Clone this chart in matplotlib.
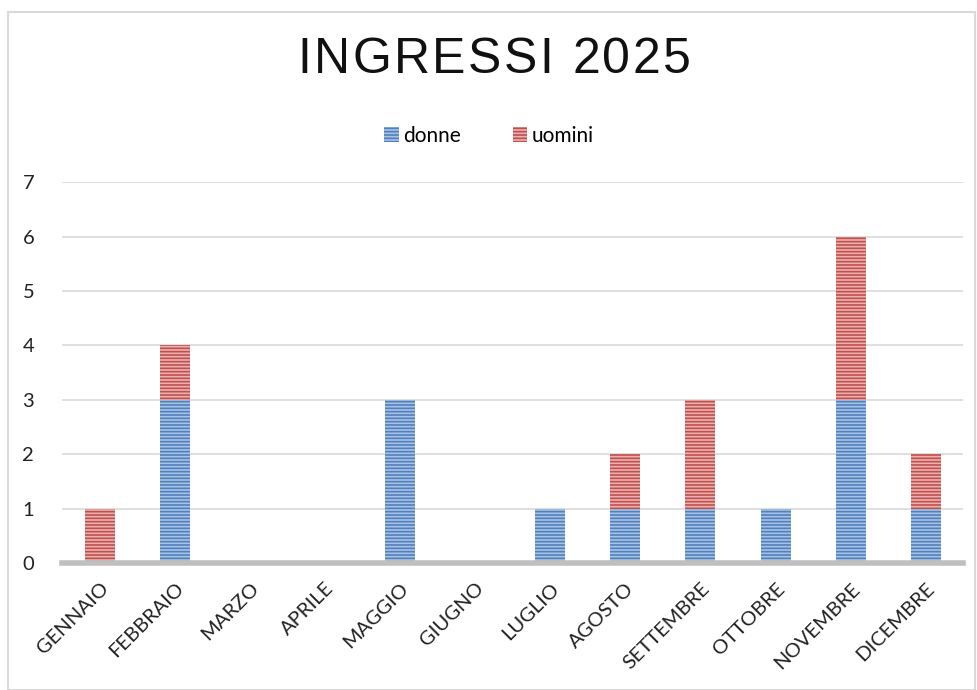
import matplotlib.pyplot as plt
from matplotlib.patches import Rectangle
import numpy as np

mesi = ['GENNAIO', 'FEBBRAIO', 'MARZO', 'APRILE', 'MAGGIO', 'GIUGNO',
        'LUGLIO', 'AGOSTO', 'SETTEMBRE', 'OTTOBRE', 'NOVEMBRE', 'DICEMBRE']
donne = [0, 3, 0, 0, 3, 0, 1, 1, 1, 1, 3, 1]
uomini = [1, 1, 0, 0, 0, 0, 0, 1, 2, 0, 3, 1]
titolo = 'INGRESSI 2025'

plt.rcParams['font.family'] = ['Lato', 'DejaVu Sans']
plt.rcParams['hatch.linewidth'] = 1.2

fig = plt.figure(figsize=(9.78, 6.9), dpi=100)
ax = fig.add_axes([0.0634, 0.184, 0.9216, 0.552])

x = np.arange(len(mesi))
ax.bar(x, donne, width=0.4, color='#A9C2E4', edgecolor='#4F81BD',
       hatch='-----', linewidth=0, label='donne', zorder=3)
ax.bar(x, uomini, bottom=donne, width=0.4, color='#EBB1B0', edgecolor='#C0504D',
       hatch='-----', linewidth=0, label='uomini', zorder=3)

ax.set_xlim(-0.5, len(mesi) - 0.5)
ax.set_ylim(0, 7)
ax.set_yticks(range(0, 8))
ax.grid(axis='y', color='#D9D9D9', linewidth=1.2, zorder=0)
for s in ['top', 'right', 'left']:
    ax.spines[s].set_visible(False)
ax.spines['bottom'].set_color('#BFBFBF')
ax.spines['bottom'].set_linewidth(4)
ax.spines['bottom'].set_zorder(4)
ax.tick_params(axis='both', length=0, labelsize=14.5, colors='#222222')
ax.tick_params(axis='y', pad=20)
ax.set_xticks(x)
ax.set_xticklabels(mesi, rotation=45, ha='right', rotation_mode='anchor', fontsize=14.5)
ax.tick_params(axis='x', pad=12)

# titolo con spaziatura tra le lettere
renderer = fig.canvas.get_renderer()
spazio = 2.5
parti = []
larghezza = 0
for ch in titolo:
    t = fig.text(0, 0.913, ch, ha='left', va='center', fontsize=36,
                 color='#111111', family='Liberation Sans')
    w = t.get_window_extent(renderer).width
    parti.append((t, w))
    larghezza += w + spazio
larghezza -= spazio
pos = (fig.bbox.width - larghezza) / 2 + 5
for t, w in parti:
    t.set_x(pos / fig.bbox.width)
    pos += w + spazio

ax.legend(loc='center', bbox_to_anchor=(0.5, 0.803), bbox_transform=fig.transFigure,
          ncol=2, frameon=False, fontsize=15, handlelength=0.7, handleheight=0.7,
          handletextpad=0.2, columnspacing=2.5)

fig.patches.append(Rectangle((8 / 978, 0.0), 967 / 978, 1 - 12 / 690,
                             transform=fig.transFigure, fill=False,
                             edgecolor='#D9D9D9', linewidth=1.5))

fig.savefig('out.png', dpi=100)
